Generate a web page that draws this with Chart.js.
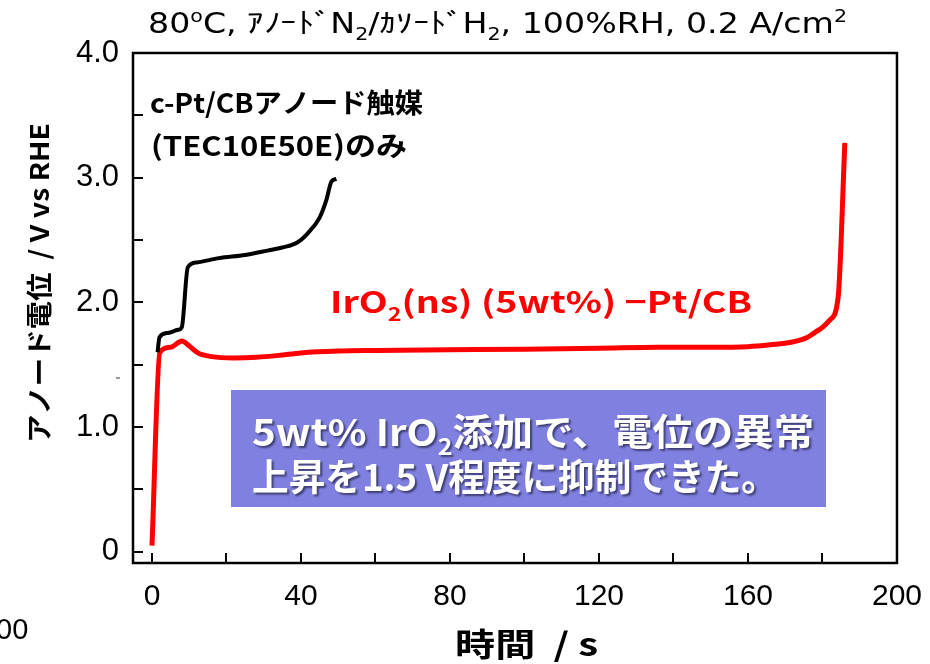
<!DOCTYPE html>
<html>
<head>
<meta charset="utf-8">
<script src="https://cdn.jsdelivr.net/npm/chart.js@4.4.1/dist/chart.umd.min.js"></script>
<style>
  html, body { margin: 0; padding: 0; background: #fff; }
</style>
</head>
<body>
<canvas id="chart" width="930" height="664"></canvas>
<script>
// Values
var timeBlack = [1.5, 2, 4.3, 7, 8, 9.6, 12, 18, 25, 31, 35, 39, 42, 45, 46.8, 48.2, 49.5];
var potBlack = [1.60, 1.72, 1.755, 1.78, 1.80, 2.28, 2.32, 2.355, 2.38, 2.415, 2.44, 2.48, 2.56, 2.68, 2.82, 2.97, 2.99];

var timeRed = [0, 2.1, 5, 8, 10, 12.3, 16, 22, 28, 34, 40, 50, 60, 80, 100, 120, 136, 150, 160, 166, 171.6, 176, 178, 180, 182, 184.2, 186];
var potRed = [0.05, 1.60, 1.64, 1.69, 1.65, 1.595, 1.565, 1.555, 1.56, 1.575, 1.595, 1.61, 1.615, 1.62, 1.625, 1.632, 1.64, 1.64, 1.645, 1.66, 1.68, 1.72, 1.76, 1.80, 1.86, 2.04, 3.28];

var xTickValues = [0, 20, 40, 60, 80, 100, 120, 140, 160, 180, 200];
var xTickLabels = ["0", "", "40", "", "80", "", "120", "", "160", "", "200"];
var yTickValues = [0, 0.5, 1, 1.5, 2, 2.5, 3, 3.5, 4];
var yTickLabels = ["0", "", "1.0", "", "2.0", "", "3.0", "", "4.0"];

function toPoints(xs, ys) {
  return xs.map(function (x, i) { return { x: x, y: ys[i] }; });
}

// draw text made of runs: [text, "n" | "sub" | "sup"]
function drawRich(ctx, runs, x, y, size, weight, family, color, targetWidth) {
  ctx.save();
  var total = 0;
  var widths = runs.map(function (r) {
    var s = r[1] == "n" ? size : size * 0.62;
    ctx.font = weight + " " + s + "px " + family;
    var w = ctx.measureText(r[0]).width;
    total += w;
    return w;
  });
  var k = targetWidth ? targetWidth / total : 1;
  ctx.translate(x, y);
  ctx.scale(k, 1);
  ctx.fillStyle = color;
  ctx.textBaseline = "alphabetic";
  ctx.textAlign = "left";
  var cx = 0;
  runs.forEach(function (r, i) {
    var s = r[1] == "n" ? size : size * 0.62;
    var dy = r[1] == "sub" ? size * 0.25 : r[1] == "sup" ? -size * 0.38 : 0;
    ctx.font = weight + " " + s + "px " + family;
    ctx.fillText(r[0], cx, dy);
    cx += widths[i];
  });
  ctx.restore();
}

var jp = "'Noto Sans CJK JP', 'Noto Sans', sans-serif";

var decorations = {
  id: "decorations",
  afterDraw: function (chart) {
    var ctx = chart.ctx;
    var a = chart.chartArea;
    var xs = chart.scales.x;
    var ys = chart.scales.y;

    // frame
    ctx.save();
    ctx.strokeStyle = "#000";
    ctx.lineWidth = 2.5;
    ctx.strokeRect(a.left, a.top, a.right - a.left, a.bottom - a.top);

    // inward ticks
    ctx.lineWidth = 2;
    ctx.beginPath();
    xTickValues.forEach(function (v) {
      var px = Math.round(xs.getPixelForValue(v));
      ctx.moveTo(px, a.bottom);
      ctx.lineTo(px, a.bottom - 10);
    });
    yTickValues.forEach(function (v) {
      var py = Math.round(ys.getPixelForValue(v));
      ctx.moveTo(a.left, py);
      ctx.lineTo(a.left + 10, py);
    });
    ctx.stroke();
    ctx.restore();

    // title
    drawRich(ctx, [["80", "n"], ["o", "sup"], ["C, ｱﾉｰﾄﾞN", "n"], ["2", "sub"], ["/ｶｿｰﾄﾞH", "n"], ["2", "sub"],
      [", 100%RH, 0.2 A/cm", "n"], ["2", "sup"]], 148, 33, 28, "normal", "'DejaVu Sans', sans-serif", "#000", 699);

    // black curve label
    drawRich(ctx, [["c-Pt/CBアノード触媒", "n"]], 150, 113, 27, "bold", jp, "#000", 273);
    drawRich(ctx, [["(TEC10E50E)のみ", "n"]], 151, 156, 27, "bold", jp, "#000", 256);

    // red curve label
    drawRich(ctx, [["IrO", "n"], ["2", "sub"], ["(ns) (5wt%) −Pt/CB", "n"]], 330, 313, 30, "bold", jp, "#ff0000", 422);

    // purple box
    ctx.save();
    ctx.fillStyle = "#8080e0";
    ctx.fillRect(231, 390, 595, 117);
    ctx.shadowColor = "rgba(40,40,80,0.75)";
    ctx.shadowOffsetX = 2;
    ctx.shadowOffsetY = 2;
    ctx.shadowBlur = 2;
    drawRich(ctx, [["5wt% IrO", "n"], ["2", "sub"], ["添加で、電位の異常", "n"]], 252, 446, 37, "bold", jp, "#fff", 562);
    drawRich(ctx, [["上昇を1.5 V程度に抑制できた。", "n"]], 252, 491, 37, "bold", jp, "#fff", 526);
    ctx.restore();

    // y axis title
    ctx.save();
    ctx.translate(49, 443);
    ctx.rotate(-Math.PI / 2);
    drawRich(ctx, [["アノード電位  / V vs RHE", "n"]], 0, 0, 26, "bold", jp, "#000", 320);
    ctx.restore();

    // x axis title
    drawRich(ctx, [["時間  / s", "n"]], 455, 656, 32, "bold", jp, "#000", 143);

    // stray fragment at lower left of the source image
    ctx.save();
    ctx.fillStyle = "#000";
    ctx.font = "29px 'Liberation Sans', sans-serif";
    ctx.textBaseline = "alphabetic";
    ctx.fillText("00", -4, 639);
    ctx.fillStyle = "#999";
    ctx.fillRect(116, 377, 4, 2);
    ctx.restore();
  }
};

var ctx = document.getElementById("chart");

var myChart = new Chart(ctx, {
  type: "line",
  data: {
    datasets: [
      {
        label: "c-Pt/CB",
        data: toPoints(timeBlack, potBlack),
        borderColor: "#000",
        borderWidth: 4,
        pointRadius: 0,
        cubicInterpolationMode: "monotone",
        fill: false,
      },
      {
        label: "IrO2(ns)-Pt/CB",
        data: toPoints(timeRed, potRed),
        borderColor: "#ff0000",
        borderWidth: 5,
        pointRadius: 0,
        cubicInterpolationMode: "monotone",
        fill: false,
      },
    ],
  },
  options: {
    responsive: false,
    animation: false,
    events: [],
    devicePixelRatio: 1,
    layout: { padding: { left: 0, top: 53, right: 31, bottom: 0 } },
    plugins: {
      legend: { display: false },
      tooltip: { enabled: false },
      title: { display: false },
    },
    scales: {
      x: {
        type: "linear",
        min: -5.1,
        max: 200,
        grid: { display: false },
        border: { display: false },
        afterFit: function (scale) { scale.height = 101; },
        afterBuildTicks: function (scale) {
          scale.ticks = xTickValues.map(function (v) { return { value: v }; });
        },
        ticks: {
          autoSkip: false,
          maxRotation: 0,
          padding: 8,
          color: "#000",
          font: { family: "'Liberation Sans', Arial, sans-serif", size: 30 },
          callback: function (value) {
            var i = xTickValues.indexOf(value);
            return i >= 0 ? xTickLabels[i] : "";
          },
        },
      },
      y: {
        type: "linear",
        min: -0.09,
        max: 4.0,
        grid: { display: false },
        border: { display: false },
        afterFit: function (scale) { scale.width = 133; },
        afterBuildTicks: function (scale) {
          scale.ticks = yTickValues.map(function (v) { return { value: v }; });
        },
        ticks: {
          autoSkip: false,
          padding: 6,
          color: "#000",
          font: { family: "'Liberation Sans', Arial, sans-serif", size: 31 },
          callback: function (value) {
            var i = yTickValues.indexOf(value);
            return i >= 0 ? yTickLabels[i] : "";
          },
        },
      },
    },
  },
  plugins: [decorations],
});
</script>
</body>
</html>
